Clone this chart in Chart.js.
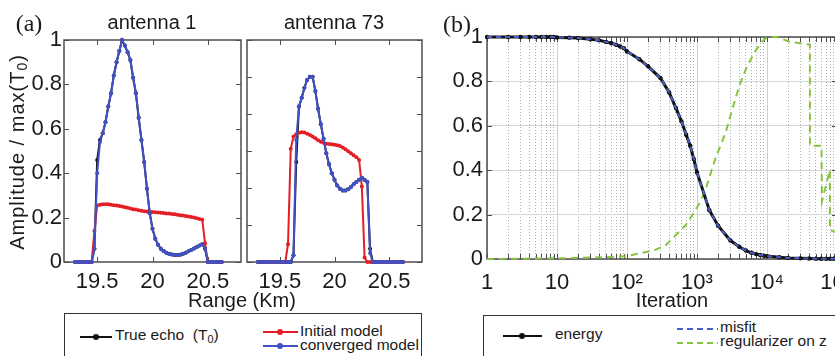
<!DOCTYPE html>
<html>
<head>
<meta charset="utf-8">
<script src="https://cdn.jsdelivr.net/npm/chart.js@4.4.0/dist/chart.umd.min.js"></script>
<style>
  html, body { margin: 0; padding: 0; background: #fff; }
  body { width: 835px; height: 356px; overflow: hidden; position: relative;
         font-family: "Liberation Sans", Arial, sans-serif; color: #1a1a1a; }
  canvas { position: absolute; top: 0; }
  .t { position: absolute; white-space: nowrap; line-height: 1; transform: translate(-50%, -50%); }
  .l { position: absolute; white-space: nowrap; line-height: 1; transform: translateY(-50%); font-size: 15.5px; }
  .box { position: absolute; border: 1.5px solid #333; height: 80px; }
  .ln { position: absolute; height: 2px; }
  .dot { position: absolute; width: 6px; height: 6px; border-radius: 50%; }
  sub { font-size: 70%; vertical-align: -0.25em; }
</style>
</head>
<body>
<canvas id="chartA1" width="245" height="300" style="left:0"></canvas>
<canvas id="chartA2" width="185" height="300" style="left:243px"></canvas>
<canvas id="chartB" width="430" height="300" style="left:440px"></canvas>

<div class="t" style="left:29px;top:23px;font-family:'Liberation Serif',serif;font-size:24px">(a)</div>
<div class="t" style="left:457px;top:24px;font-family:'Liberation Serif',serif;font-size:24px">(b)</div>
<div class="t" style="left:152px;top:22px;font-size:20px">antenna 1</div>
<div class="t" style="left:334px;top:22px;font-size:20px">antenna 73</div>
<div class="t" style="left:18px;top:152px;font-size:20px;letter-spacing:1px;transform:translate(-50%,-50%) rotate(-90deg)">Amplitude / max(T<sub>0</sub>)</div>
<div class="t" style="left:242px;top:300px;font-size:20px">Range (Km)</div>
<div class="t" style="left:672px;top:300px;font-size:20px">Iteration</div>

<!-- legenda (a) -->
<div class="box" style="left:64px;top:313px;width:356px"></div>
<div class="ln" style="left:80px;top:336px;width:32px;background:#111"></div>
<div class="dot" style="left:93px;top:334px;background:#111"></div>
<div class="l" style="left:115px;top:336px">True echo&nbsp; (T<sub>0</sub>)</div>
<div class="ln" style="left:263px;top:331px;width:35px;background:#e41e26"></div>
<div class="dot" style="left:277px;top:329px;background:#e41e26"></div>
<div class="l" style="left:300px;top:331px">Initial model</div>
<div class="ln" style="left:263px;top:345px;width:35px;background:#3f51c5"></div>
<div class="dot" style="left:277px;top:343px;background:#3f51c5"></div>
<div class="l" style="left:300px;top:345px">converged model</div>

<!-- legenda (b) -->
<div class="box" style="left:483px;top:315px;width:400px"></div>
<div class="ln" style="left:503px;top:335px;width:39px;background:#111"></div>
<div class="dot" style="left:519px;top:333px;background:#111"></div>
<div class="l" style="left:555px;top:334px">energy</div>
<div class="ln" style="left:677px;top:328px;width:41px;background:repeating-linear-gradient(to right,#4a5ec8 0 6px,transparent 6px 10px)"></div>
<div class="l" style="left:720px;top:327px">misfit</div>
<div class="ln" style="left:677px;top:342px;width:41px;background:repeating-linear-gradient(to right,#86c440 0 6px,transparent 6px 10px)"></div>
<div class="l" style="left:720px;top:341px">regularizer on z</div>

<script>
// Range (Km) - same grid for both antennas
const aRange = [19.300, 19.325, 19.350, 19.375, 19.400, 19.425, 19.450, 19.475, 19.500, 19.525,
                19.550, 19.575, 19.600, 19.625, 19.650, 19.675, 19.700, 19.725, 19.750, 19.775,
                19.800, 19.825, 19.850, 19.875, 19.900, 19.925, 19.950, 19.975, 20.000, 20.025,
                20.050, 20.075, 20.100, 20.125, 20.150, 20.175, 20.200, 20.225, 20.250, 20.275,
                20.300, 20.325, 20.350, 20.375, 20.400, 20.425, 20.450, 20.475, 20.500, 20.525,
                20.550, 20.575, 20.600, 20.625];

// antenna 1
const a1Converged = [0, 0, 0, 0, 0, 0, 0,
  0.06, 0.40, 0.54, 0.58, 0.63, 0.70, 0.76, 0.84, 0.90, 0.95,
  1.00, 0.975, 0.945, 0.91, 0.83, 0.76, 0.65, 0.55, 0.45, 0.33,
  0.22, 0.15, 0.105, 0.078, 0.06, 0.049, 0.042, 0.037, 0.034, 0.032,
  0.031, 0.033, 0.037, 0.042, 0.048, 0.054, 0.061, 0.068, 0.074, 0.08,
  0.06, 0, 0, 0, 0, 0, 0];
const a1TrueEcho = [0, 0, 0, 0, 0, 0, 0,
  0.06, 0.46, 0.55, 0.58, 0.63, 0.70, 0.76, 0.84, 0.90, 0.95,
  1.00, 0.975, 0.945, 0.91, 0.83, 0.76, 0.65, 0.55, 0.45, 0.33,
  0.22, 0.15, 0.105, 0.078, 0.06, 0.049, 0.042, 0.037, 0.034, 0.032,
  0.031, 0.033, 0.037, 0.042, 0.048, 0.054, 0.061, 0.068, 0.074, 0.08,
  0.06, 0, 0, 0, 0, 0, 0];
const a1Initial = [0, 0, 0, 0, 0, 0, 0,
  0.14, 0.255, 0.258, 0.26, 0.26, 0.26, 0.258, 0.256, 0.254, 0.252,
  0.25, 0.247, 0.244, 0.241, 0.238, 0.236, 0.233, 0.231, 0.229, 0.227,
  0.226, 0.225, 0.224, 0.223, 0.222, 0.221, 0.219, 0.218, 0.216, 0.215,
  0.213, 0.211, 0.209, 0.207, 0.205, 0.203, 0.2, 0.197, 0.194, 0.19,
  0.085, 0, 0, 0, 0, 0, 0];

// antenna 73
const a2Converged = [0, 0, 0, 0, 0, 0, 0, 0, 0, 0, 0, 0, 0,
  0.03, 0.55, 0.70, 0.74, 0.785, 0.82, 0.835, 0.835, 0.77, 0.69,
  0.62, 0.555, 0.49, 0.44, 0.40, 0.37, 0.345, 0.33, 0.322, 0.322,
  0.328, 0.338, 0.35, 0.36, 0.37, 0.38, 0.37, 0.36, 0.04,
  0, 0, 0, 0, 0, 0, 0, 0, 0, 0, 0, 0];
const a2TrueEcho = [0, 0, 0, 0, 0, 0, 0, 0, 0, 0, 0, 0, 0,
  0.03, 0.45, 0.70, 0.74, 0.785, 0.82, 0.835, 0.835, 0.77, 0.69,
  0.62, 0.555, 0.49, 0.44, 0.40, 0.37, 0.345, 0.33, 0.322, 0.322,
  0.328, 0.338, 0.35, 0.36, 0.37, 0.38, 0.37, 0.36, 0.06,
  0, 0, 0, 0, 0, 0, 0, 0, 0, 0, 0, 0];
const a2Initial = [0, 0, 0, 0, 0, 0, 0, 0, 0, 0, 0,
  0.08, 0.51, 0.565, 0.575, 0.582, 0.585, 0.583, 0.578, 0.572, 0.565,
  0.557, 0.548, 0.542, 0.537, 0.533, 0.531, 0.53, 0.528, 0.526, 0.522,
  0.516, 0.508, 0.499, 0.49, 0.481, 0.472, 0.46, 0.34, 0.02, 0,
  0, 0, 0, 0, 0, 0, 0, 0, 0, 0, 0, 0, 0];

const aXTicks = [19.5, 20, 20.5];
const a1YTicks = [0, 0.2, 0.4, 0.6, 0.8, 1];
const a2YTicks = [0, 1 / 6, 2 / 6, 3 / 6, 4 / 6, 5 / 6, 1];

// (b) convergence
const iterations = [1, 2, 3, 4, 5, 6, 7, 8, 9, 10, 15, 20, 30, 40, 50, 60, 70, 80, 90, 100,
  150, 200, 300, 400, 500, 600, 700, 800, 900, 1000, 1500, 2000, 3000, 4000, 5000, 6000, 7000, 8000, 9000, 10000,
  15000, 20000, 30000, 40000, 50000, 60000, 70000, 80000, 90000, 100000];
const energy = [1, 1, 1, 1, 1, 1, 1, 1, 1, 0.998, 0.997, 0.995, 0.99, 0.985, 0.978, 0.972, 0.965, 0.957, 0.95, 0.935,
  0.9, 0.868, 0.815, 0.75, 0.68, 0.62, 0.56, 0.51, 0.45, 0.39, 0.22, 0.15, 0.083, 0.055, 0.038, 0.028, 0.022, 0.018, 0.015, 0.013,
  0.008, 0.005, 0.003, 0.002, 0.0015, 0.001, 0.001, 0.001, 0.001, 0.001];
const misfit = [1, 1, 1, 1, 1, 1, 1, 1, 1, 0.998, 0.997, 0.995, 0.99, 0.985, 0.978, 0.972, 0.965, 0.957, 0.95, 0.935,
  0.9, 0.868, 0.815, 0.75, 0.68, 0.62, 0.56, 0.51, 0.45, 0.39, 0.22, 0.15, 0.083, 0.055, 0.038, 0.028, 0.022, 0.018, 0.015, 0.013,
  0.008, 0.005, 0.003, 0.002, 0.0015, 0.001, 0.001, 0.001, 0.001, 0.001];
const regIter = [1, 10, 50, 100, 160, 250, 360, 500, 690, 910, 1150, 1350, 1580, 1820, 2040, 2570, 3160, 3980, 5130, 6900,
  9100, 10700, 13800, 20400, 41000, 41100, 60000, 61000, 79000, 79400, 100000];
const regularizer = [0, 0.003, 0.008, 0.013, 0.027, 0.04, 0.063, 0.108, 0.153, 0.21, 0.266, 0.32, 0.39, 0.45, 0.49, 0.57, 0.67, 0.775, 0.865, 0.94,
  0.99, 1.0, 1.0, 0.98, 0.965, 0.51, 0.51, 0.26, 0.40, 0.13, 0.12];
const bYTicks = [0, 0.2, 0.4, 0.6, 0.8, 1];

const RED = '#e41e26', BLUE = '#3f51c5', BLACK = '#111', GREEN = '#86c440', MISFIT = '#4a5ec8';
const sup = { 2: '\u00b2', 3: '\u00b3', 4: '\u2074', 5: '\u2075' };

Chart.defaults.font.family = '"Liberation Sans", Arial, sans-serif';
Chart.defaults.color = '#1a1a1a';

const pts = (xs, ys) => xs.map((x, i) => ({ x: x, y: ys[i] }));
const isDecade = v => Math.abs(Math.log10(v) - Math.round(Math.log10(v))) < 1e-6;

// moldura estilo MATLAB com ticks para dentro
const boxPlugin = {
  id: 'box',
  beforeDatasetsDraw(chart) {
    const { ctx, chartArea: a, scales } = chart;
    ctx.save();
    ctx.strokeStyle = '#4d4d4d';
    ctx.lineWidth = 1;
    ctx.beginPath();
    scales.x.ticks.forEach(t => {
      const p = Math.round(scales.x.getPixelForValue(t.value)) + 0.5;
      ctx.moveTo(p, a.bottom); ctx.lineTo(p, a.bottom - 5);
      ctx.moveTo(p, a.top); ctx.lineTo(p, a.top + 5);
    });
    scales.y.ticks.forEach(t => {
      const p = Math.round(scales.y.getPixelForValue(t.value)) + 0.5;
      ctx.moveTo(a.left, p); ctx.lineTo(a.left + 5, p);
      ctx.moveTo(a.right, p); ctx.lineTo(a.right - 5, p);
    });
    ctx.stroke();
    ctx.lineWidth = 1.5;
    ctx.strokeRect(a.left, a.top, a.right - a.left, a.bottom - a.top);
    ctx.restore();
  }
};

function lineSet(ys, color, order) {
  return {
    data: pts(aRange, ys), borderColor: color, backgroundColor: color, borderWidth: 2,
    pointRadius: 2, pointBorderWidth: 0, pointBackgroundColor: color, clip: false, order: order
  };
}

function antennaChart(id, trueEcho, initial, converged, yTicks, showY, rightPad) {
  return new Chart(document.getElementById(id), {
    type: 'line',
    data: {
      datasets: [
        lineSet(trueEcho, BLACK, 3),
        lineSet(initial, RED, 2),
        lineSet(converged, BLUE, 1)
      ]
    },
    options: {
      responsive: false, animation: false,
      layout: { padding: { top: 40, right: rightPad } },
      plugins: { legend: { display: false }, tooltip: { enabled: false } },
      scales: {
        x: {
          type: 'linear', min: 19.2, max: 20.8,
          afterBuildTicks: s => { s.ticks = aXTicks.map(v => ({ value: v })); },
          afterFit: s => { s.height = 38; },
          grid: { display: false, drawTicks: false }, border: { display: false },
          ticks: { padding: 7, font: { size: 22 }, maxRotation: 0, autoSkip: false, callback: v => String(v) }
        },
        y: {
          min: 0, max: 1,
          afterBuildTicks: s => { s.ticks = yTicks.map(v => ({ value: v })); },
          afterFit: s => { s.width = showY ? 64 : 4; },
          grid: { display: false, drawTicks: false }, border: { display: false },
          ticks: { display: showY, padding: 2, font: { size: 22 }, callback: v => String(Math.round(v * 10) / 10) }
        }
      }
    },
    plugins: [boxPlugin]
  });
}

antennaChart('chartA1', a1TrueEcho, a1Initial, a1Converged, a1YTicks, true, 4);
antennaChart('chartA2', a2TrueEcho, a2Initial, a2Converged, a2YTicks, false, 6);

// ticks do eixo log: 1..9 por década
const bXTicks = [];
for (let d = 1; d < 100000; d *= 10) {
  for (let m = 1; m < 10; m++) bXTicks.push(m * d);
}
bXTicks.push(100000);

new Chart(document.getElementById('chartB'), {
  type: 'line',
  data: {
    datasets: [
      { data: pts(iterations, misfit), borderColor: MISFIT, borderWidth: 2, borderDash: [5, 4], pointRadius: 0, clip: false, order: 1 },
      { data: pts(iterations, energy), borderColor: BLACK, backgroundColor: BLACK, borderWidth: 3, pointRadius: 2.2,
        pointBorderWidth: 0, pointBackgroundColor: BLACK, clip: false, order: 2 },
      { data: pts(regIter, regularizer), borderColor: GREEN, borderWidth: 2, borderDash: [7, 5], pointRadius: 0, clip: false, order: 3 }
    ]
  },
  options: {
    responsive: false, animation: false,
    layout: { padding: { top: 37, right: 33 } },
    plugins: { legend: { display: false }, tooltip: { enabled: false } },
    scales: {
      x: {
        type: 'logarithmic', min: 1, max: 100000,
        afterBuildTicks: s => { s.ticks = bXTicks.map(v => ({ value: v })); },
        afterFit: s => { s.height = 41; },
        grid: { drawTicks: false, lineWidth: 1, color: c => (c.tick && isDecade(c.tick.value)) ? '#cfcfcf' : '#b0b0b0' },
        border: { display: false, dash: c => (c.tick && !isDecade(c.tick.value)) ? [1, 2] : [] },
        ticks: {
          padding: 11, font: { size: 22 }, maxRotation: 0, autoSkip: false,
          callback: v => {
            if (!isDecade(v)) return '';
            const e = Math.round(Math.log10(v));
            return e === 0 ? '1' : e === 1 ? '10' : '10' + sup[e];
          }
        }
      },
      y: {
        min: 0, max: 1,
        afterBuildTicks: s => { s.ticks = bYTicks.map(v => ({ value: v })); },
        afterFit: s => { s.width = 47; },
        grid: { drawTicks: false, color: '#d4d4d4', lineWidth: 1 },
        border: { display: false },
        ticks: { padding: 4, font: { size: 22 }, callback: v => String(Math.round(v * 10) / 10) }
      }
    }
  },
  plugins: [boxPlugin]
});
</script>
</body>
</html>
